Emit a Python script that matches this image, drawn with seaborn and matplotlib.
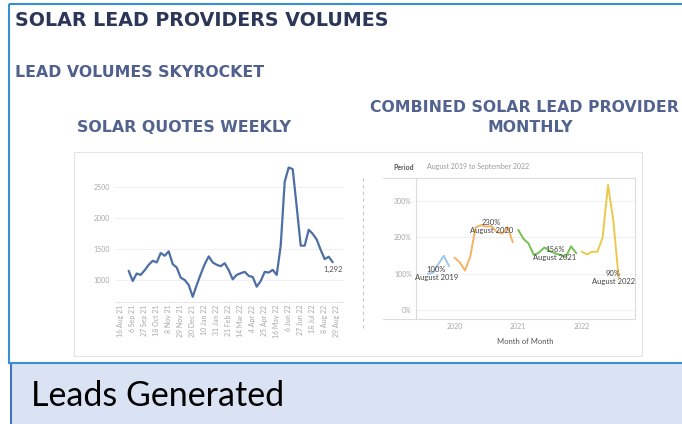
import matplotlib
matplotlib.use("Agg")
from matplotlib import pyplot as plt
from matplotlib.patches import Rectangle
from matplotlib.lines import Line2D
from matplotlib.transforms import Affine2D
import matplotlib.ticker as mticker
import pandas as pd
import seaborn as sns

# weekly solar quotes (one value per week)
weekly_first_week = "2021-08-30"
weekly_quotes = [1152, 989, 1109, 1087, 1163, 1250, 1315, 1288, 1440, 1396, 1467, 1261, 1206,
                 1043, 1005, 924, 734, 924, 1098, 1261, 1385, 1288, 1250, 1228, 1275, 1163,
                 1016, 1087, 1114, 1136, 1071, 1054, 897, 989, 1136, 1125, 1168, 1087, 1559,
                 2591, 2819, 2792, 2184, 1559, 1559, 1815, 1749, 1657, 1489, 1342, 1380, 1292]
weekly_tick_start = "2021-08-16"
weekly_tick_end = "2022-08-29"

# combined providers, monthly volume as % of August 2019
pct_2019 = [100, 103, 127, 149, 121]  # Aug..Dec
pct_2020 = [144, 131, 109, 147, 227, 233, 229, 230, 214, 210, 228, 186]
pct_2021 = [220, 195, 183, 151, 158, 172, 162, 156, 151, 146, 175, 156]
pct_2022 = [160, 153, 160, 160, 199, 343, 247, 90]  # Jan..Aug
year_colors = {"2019": "#a3c6e8", "2020": "#f7b266", "2021": "#74c152", "2022": "#ebc94c"}


def fill_monthly():
    rows = []
    for year, vals, first in [(2019, pct_2019, 8), (2020, pct_2020, 1), (2021, pct_2021, 1), (2022, pct_2022, 1)]:
        for i, v in enumerate(vals):
            rows.append({"month": pd.Timestamp(year, first + i, 1), "year": str(year), "pct": v})
    return pd.DataFrame(rows)


monthly_df = fill_monthly()
weekly_df = pd.DataFrame({"week": pd.date_range(weekly_first_week, periods=len(weekly_quotes), freq="7D"),
                          "quotes": weekly_quotes})

sns.set_style("white")
plt.rcParams["font.family"] = ["Lato", "DejaVu Sans"]
fig = plt.figure(figsize=(6.82, 4.24), dpi=100)
# pixel coordinates, origin top-left
px = Affine2D().scale(1 / 682, -1 / 424).translate(0, 1) + fig.transFigure

# slide boxes
fig.add_artist(Rectangle((10, 364), 690, 80, transform=px, facecolor="#dae3f3", edgecolor="none", zorder=-3))
fig.add_artist(Line2D([10.5, 10.5], [364, 424], transform=px, color="#4472c4", lw=1.5, zorder=-2))
fig.add_artist(Rectangle((8.5, 3.5), 700, 359, transform=px, facecolor="none", edgecolor="#3a8fd2", lw=1.5, zorder=-2))
fig.add_artist(Rectangle((73.5, 152), 568, 204, transform=px, facecolor="white", edgecolor="#e4e4e4", lw=0.8, zorder=-1))

title_font = ["DejaVu Sans"]
fig.text(15, 26, "SOLAR LEAD PROVIDERS VOLUMES", transform=px, family=title_font, fontsize=13.7,
         fontweight="bold", color="#2b3658", va="baseline")
fig.text(15, 77, "LEAD VOLUMES SKYROCKET", transform=px, family=title_font, fontsize=11.35,
         fontweight="bold", color="#4f5f8e", va="baseline")
fig.text(184, 132, "SOLAR QUOTES WEEKLY", transform=px, family=title_font, fontsize=11.4,
         fontweight="bold", color="#52638f", va="baseline", ha="center")
fig.text(524, 111.5, "COMBINED SOLAR LEAD PROVIDER", transform=px, family=title_font, fontsize=11.3,
         fontweight="bold", color="#52638f", va="baseline", ha="center")
fig.text(530.5, 131.5, "MONTHLY", transform=px, family=title_font, fontsize=11.3,
         fontweight="bold", color="#52638f", va="baseline", ha="center")
fig.text(31, 406.5, "Leads Generated", transform=px, fontsize=24.5, color="black", va="baseline")

# ---- left: weekly quotes ----
ax1 = fig.add_axes([115 / 682, 1 - 302 / 424, 228 / 682, 142 / 424])
sns.lineplot(data=weekly_df, x="week", y="quotes", ax=ax1, color="#4d6fa5", lw=1.6)
ax1.set_xlim(pd.Timestamp("2021-08-06"), pd.Timestamp("2022-09-09"))
ax1.set_ylim(650, 2940)
ax1.set_yticks([1000, 1500, 2000, 2500])
ticks = pd.date_range(weekly_tick_start, weekly_tick_end, freq="21D")
ax1.set_xticks(ticks)
ax1.set_xticklabels([f"{d.day} {d:%b %y}" for d in ticks], rotation=90)
ax1.tick_params(axis="both", labelsize=5, colors="#a8a8a8", length=0)
ax1.tick_params(axis="y", pad=3.5)
ax1.tick_params(axis="x", pad=2)
ax1.grid(axis="y", color="#eeeeee", lw=0.6)
ax1.set_xlabel("")
ax1.set_ylabel("")
for s in ["top", "right", "left"]:
    ax1.spines[s].set_visible(False)
ax1.spines["bottom"].set_color("#e2e2e2")
ax1.spines["bottom"].set_linestyle(":")
ax1.annotate(f"{weekly_quotes[-1]:,}", xy=(weekly_df["week"].iloc[-1], weekly_quotes[-1]),
             xytext=(0, -5), textcoords="offset points", ha="center", va="center",
             fontsize=5.5, color="#555555")

# ---- right: combined monthly ----
ax2 = fig.add_axes([416 / 682, 1 - 319 / 424, 219 / 682, 141 / 424])
sns.lineplot(data=monthly_df, x="month", y="pct", hue="year", palette=year_colors, ax=ax2,
             legend=False, lw=1.4)
ax2.set_xlim(pd.Timestamp("2019-05-25"), pd.Timestamp("2022-11-03"))
ax2.set_ylim(-24, 362)
ax2.set_yticks([0, 100, 200, 300])
ax2.yaxis.set_major_formatter(mticker.FuncFormatter(lambda v, p: f"{v:.0f}%"))
ax2.set_xticks([pd.Timestamp(y, 1, 1) for y in (2020, 2021, 2022)])
ax2.set_xticklabels(["2020", "2021", "2022"])
ax2.tick_params(axis="both", labelsize=5, colors="#a8a8a8", length=0)
ax2.tick_params(axis="y", pad=3)
ax2.tick_params(axis="x", pad=3)
ax2.grid(axis="y", color="#eeeeee", lw=0.6)
ax2.set_xlabel("")
ax2.set_ylabel("")
for s in ["top", "right", "bottom"]:
    ax2.spines[s].set_visible(False)
ax2.spines["left"].set_color("#dcdcdc")
ax2.spines["left"].set_linewidth(0.8)

aug_labels = [(2019, pct_2019[0], 6), (2020, pct_2020[7], 0), (2021, pct_2021[7], 0), (2022, pct_2022[7], -4)]
for year, v, dx in aug_labels:
    ax2.annotate(f"{v}%\nAugust {year}", xy=(pd.Timestamp(year, 8, 1), v), xytext=(dx, 0),
                 textcoords="offset points", ha="center", va="center", fontsize=5.5,
                 color="#444444", linespacing=1.15)

# sheet frame + header
for xs, ys in [([383, 635], [178, 178]), ([383, 635], [319, 319]), ([635, 635], [178, 319])]:
    fig.add_artist(Line2D(xs, ys, transform=px, color="#dcdcdc", lw=0.8))
fig.add_artist(Line2D([363, 363], [178, 330], transform=px, color="#c8c8c8", lw=0.8, ls=(0, (3, 3))))
fig.text(393, 167, "Period", transform=px, fontsize=5, fontweight="bold", color="#555555", va="center")
fig.text(427, 167, "August 2019 to September 2022", transform=px, fontsize=5, color="#9a9a9a", va="center")
fig.text(525, 341, "Month of Month", transform=px, fontsize=5.5, color="#555555", va="center", ha="center")

fig.savefig("out.png", dpi=100)
